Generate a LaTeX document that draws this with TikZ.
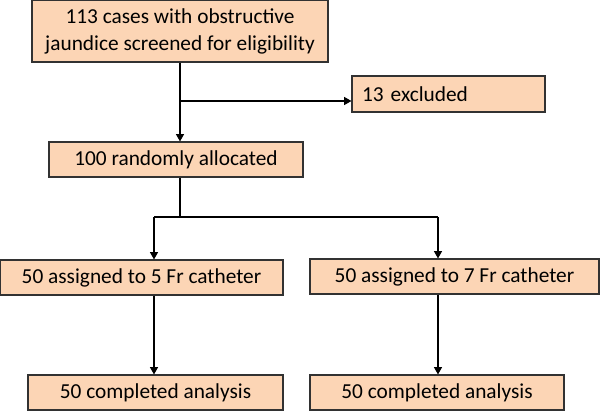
\documentclass[tikz,border=0pt]{standalone}
\usepackage{fontspec}
\setmainfont{Carlito}
\usetikzlibrary{arrows.meta}
\definecolor{boxfill}{RGB}{252,213,181}
\definecolor{boxline}{RGB}{50,50,50}
\tikzset{
  flowbox/.style={draw=boxline, line width=0.8pt, fill=boxfill, inner sep=0pt,
    minimum height=26.25pt, align=center, font=\fontsize{16}{20.25}\selectfont},
  conn/.style={line width=0.9pt, draw=black},
  arr/.style={conn, -{Triangle[width=6pt,length=5.5pt]}}
}
\begin{document}
\begin{tikzpicture}[x=0.75pt,y=-0.75pt]
\useasboundingbox (0,0) rectangle (600,411);
\node[flowbox, minimum width=222pt, minimum height=46.5pt] (top) at (180,31)
  {113 cases with obstructive\\jaundice screened for eligibility};
\node[flowbox, minimum width=144.75pt, minimum height=27pt, text width=129.75pt,
  inner xsep=7.5pt, align=left] (excl) at (448.5,94) {13 excluded};
\node[flowbox, minimum width=190.5pt] (rand) at (176,159.5) {100 randomly allocated};
\node[flowbox, minimum width=212.25pt] (a5) at (141.5,277.5) {50 assigned to 5 Fr catheter};
\node[flowbox, minimum width=216.75pt] (a7) at (454.5,276.5) {50 assigned to 7 Fr catheter};
\node[flowbox, minimum width=191.25pt] (c5) at (155.5,392.5) {50 completed analysis};
\node[flowbox, minimum width=190.5pt] (c7) at (437,392.5) {50 completed analysis};
\coordinate (main) at (180,101);
\coordinate (split) at (180,217);
\coordinate (L) at (154,217);
\coordinate (R) at (438,217);
\draw[arr] (top.south) -- (top.south |- rand.north);
\draw[arr] (main) -- (main -| excl.west);
\draw[conn] (split |- rand.south) -- (split);
\draw[conn] (L) -- (R);
\draw[arr] (L) -- (L |- a5.north);
\draw[arr] (R) -- (R |- a7.north);
\draw[arr] (L |- a5.south) -- (L |- c5.north);
\draw[arr] (R |- a7.south) -- (R |- c7.north);
\end{tikzpicture}
\end{document}
